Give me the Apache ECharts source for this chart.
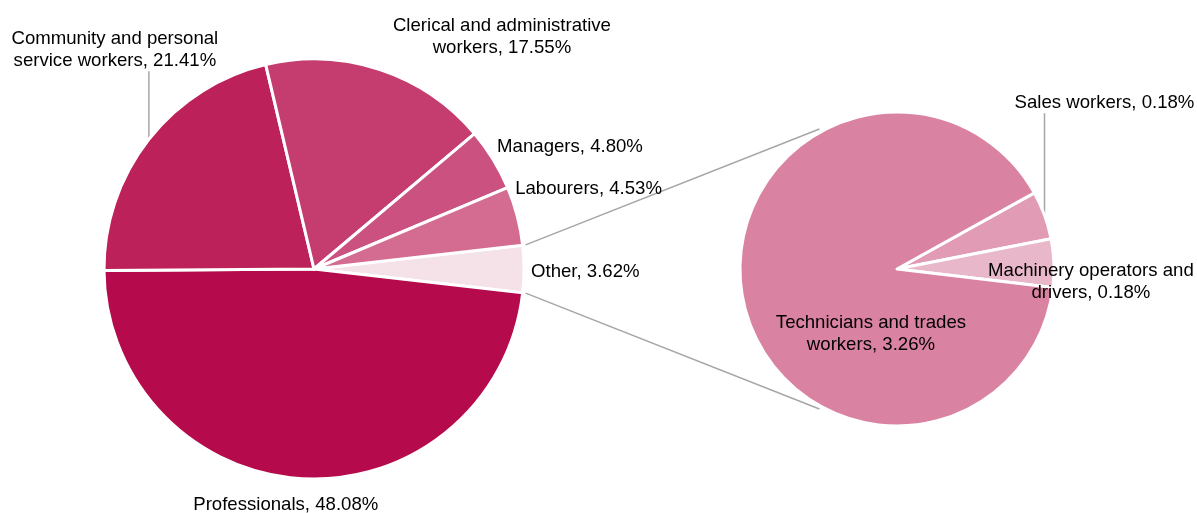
<!DOCTYPE html>
<html>
<head>
<meta charset="utf-8">
<script src="https://cdn.jsdelivr.net/npm/echarts@6/dist/echarts.min.js"></script>
<style>
    html, body { margin: 0; padding: 0; background: #fff; }
    #chart { width: 1197px; height: 513px; }
</style>
</head>
<body>
<div id="chart"></div>
<script>
    // main pie, clockwise from 3 o'clock
    const mainNames = ['Other', 'Professionals', 'Community and personal\nservice workers',
        'Clerical and administrative\nworkers', 'Managers', 'Labourers'];
    const mainValues = [3.62, 48.08, 21.41, 17.55, 4.80, 4.53];
    const mainColors = ['#F5E1E8', '#B50A4B', '#BC2159', '#C43D6E', '#CB5180', '#D46B91'];

    // breakdown of "Other"
    const otherNames = ['Sales workers', 'Machinery operators and\ndrivers', 'Technicians and trades\nworkers'];
    const otherValues = [0.18, 0.18, 3.26];
    const otherColors = ['#E19BB4', '#E8B7C9', '#D982A1'];

    const sum = arr => arr.reduce((a, b) => a + b, 0);

    // geometry
    const mainGeo = { cx: 314, cy: 269, r: 210, start: mainValues[0] / sum(mainValues) * 180 };
    const subGeo = { cx: 897, cy: 269, r: 157, start: 29 };

    // label offsets from slice edge midpoint: [dx, dy, align]
    const mainLabelOffsets = [[7, 3, 'left'], [-17, 26, 'center'], [-34, -89, 'center'],
        [122, -33, 'center'], [4, -13, 'left'], [-2, -27, 'left']];
    const mainLineLens = [0, 0, 68, 0, 0, 0];
    const subLabelOffsets = [[60, -112, 'center'], [37, 19, 'center'], [128, 35, 'center']];
    const subLineLens = [102, 0, 0];

    function makeLayout(geo, values, offsets, lineLens) {
        const total = sum(values);
        const mids = [];
        let acc = 0;
        values.forEach(v => {
            const a = (geo.start - (acc + v / 2) / total * 360) * Math.PI / 180;
            mids.push([geo.cx + geo.r * Math.cos(a), geo.cy - geo.r * Math.sin(a)]);
            acc += v;
        });
        return function (p) {
            const i = p.dataIndex;
            const m = mids[i];
            const o = offsets[i];
            const res = { x: m[0] + o[0], y: m[1] + o[1], align: o[2], verticalAlign: 'middle' };
            if (lineLens[i]) {
                const top = [m[0], m[1] - lineLens[i]];
                res.labelLinePoints = [[m[0], m[1]], top, top];
            }
            return res;
        };
    }

    function edgePoint(geo, deg, extra) {
        const a = deg * Math.PI / 180;
        const r = geo.r + extra;
        return [geo.cx + r * Math.cos(a), geo.cy - r * Math.sin(a)];
    }

    const pTop1 = edgePoint(mainGeo, mainGeo.start, 3);
    const pBot1 = edgePoint(mainGeo, -mainGeo.start, 3);
    const pTop2 = edgePoint(subGeo, 119, 3);
    const pBot2 = edgePoint(subGeo, -119, 3);

    const labelFmt = p => p.name + ', ' + p.value.toFixed(2) + '%';
    const labelStyle = {
        show: true,
        position: 'outside',
        formatter: labelFmt,
        color: '#000',
        fontFamily: 'Liberation Sans, Arial, sans-serif',
        fontSize: 18.6,
        lineHeight: 22
    };

    let myChart = echarts.init(document.getElementById('chart'));
    myChart.setOption({
        animation: false,
        graphic: [
            { type: 'line', z: 0, shape: { x1: pTop1[0], y1: pTop1[1], x2: pTop2[0], y2: pTop2[1] },
                style: { stroke: '#A6A6A6', lineWidth: 1.5 } },
            { type: 'line', z: 0, shape: { x1: pBot1[0], y1: pBot1[1], x2: pBot2[0], y2: pBot2[1] },
                style: { stroke: '#A6A6A6', lineWidth: 1.5 } }
        ],
        series: [
            {
                type: 'pie',
                center: [mainGeo.cx, mainGeo.cy],
                radius: mainGeo.r,
                startAngle: mainGeo.start,
                clockwise: true,
                avoidLabelOverlap: false,
                itemStyle: { borderColor: '#fff', borderWidth: 3 },
                label: labelStyle,
                labelLine: { show: false, lineStyle: { color: '#A6A6A6', width: 1.5 } },
                labelLayout: makeLayout(mainGeo, mainValues, mainLabelOffsets, mainLineLens),
                emphasis: { disabled: true },
                data: mainNames.map((n, i) => ({
                    name: n, value: mainValues[i],
                    itemStyle: { color: mainColors[i] },
                    labelLine: { show: mainLineLens[i] > 0 }
                }))
            },
            {
                type: 'pie',
                center: [subGeo.cx, subGeo.cy],
                radius: subGeo.r,
                startAngle: subGeo.start,
                clockwise: true,
                avoidLabelOverlap: false,
                itemStyle: { borderColor: '#fff', borderWidth: 3 },
                label: labelStyle,
                labelLine: { show: false, lineStyle: { color: '#A6A6A6', width: 1.5 } },
                labelLayout: makeLayout(subGeo, otherValues, subLabelOffsets, subLineLens),
                emphasis: { disabled: true },
                data: otherNames.map((n, i) => ({
                    name: n, value: otherValues[i],
                    itemStyle: { color: otherColors[i] },
                    labelLine: { show: subLineLens[i] > 0 }
                }))
            }
        ]
    });
</script>
</body>
</html>
